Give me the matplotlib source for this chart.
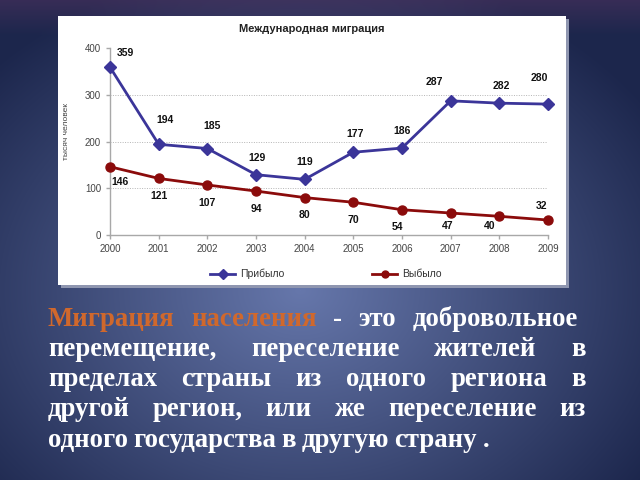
import matplotlib.pyplot as plt
import numpy as np
from matplotlib.patches import Rectangle

# data
years = [2000, 2001, 2002, 2003, 2004, 2005, 2006, 2007, 2008, 2009]
arrived = [359, 194, 185, 129, 119, 177, 186, 287, 282, 280]
left = [146, 121, 107, 94, 80, 70, 54, 47, 40, 32]
yticks = [0, 100, 200, 300, 400]

title = 'Международная миграция'
ylabel = 'тысяч человек'
name_arrived = 'Прибыло'
name_left = 'Выбыло'

lines = [
    ['Миграция', 'населения', '-', 'это', 'добровольное'],
    ['перемещение,', 'переселение', 'жителей', 'в'],
    ['пределах', 'страны', 'из', 'одного', 'региона', 'в'],
    ['другой', 'регион,', 'или', 'же', 'переселение', 'из'],
    ['одного', 'государства', 'в', 'другую', 'страну', '.'],
]

# label offsets in pixels (dx, dy up)
off_arr = [(15, 14), (6, 24), (5, 23), (1, 17), (0, 17), (2, 18), (0, 17), (-16, 19), (2, 17), (-9, 26)]
off_left = [(10, -15), (0, -18), (0, -18), (0, -18), (0, -17), (0, -18), (-5, -17), (-3, -13), (-10, -10), (-6, 14)]

W, H = 640, 480
fig = plt.figure(figsize=(6.4, 4.8), dpi=100)

# background gradient
bg = fig.add_axes([0, 0, 1, 1])
yy, xx = np.mgrid[0:H, 0:W]
d = np.sqrt(((xx - 300) / 420) ** 2 + ((yy - 290) / 330) ** 2)
t = np.clip(d, 0, 1)
c_in = np.array([0x66, 0x77, 0xab]) / 255
c_out = np.array([0x1c, 0x26, 0x4c]) / 255
img = c_in[None, None, :] * (1 - t[..., None]) + c_out[None, None, :] * t[..., None]
# purple tint at top
top = np.clip(1 - yy / 35, 0, 1)[..., None] * 0.35
img = img * (1 - top) + np.array([0x6a, 0x3a, 0x6a])[None, None, :] / 255 * top
bg.imshow(img, extent=[0, W, H, 0], aspect='auto')
bg.set_xlim(0, W)
bg.set_ylim(H, 0)
bg.axis('off')

# white panel with shadow
fig.patches.append(Rectangle((61 / W, (H - 288) / H), 508 / W, 269 / H, transform=fig.transFigure,
                             facecolor='#8f96b0', edgecolor='none', zorder=1))
fig.patches.append(Rectangle((58 / W, (H - 285) / H), 508 / W, 269 / H, transform=fig.transFigure,
                             facecolor='white', edgecolor='none', zorder=1))

ax = fig.add_axes([110 / W, (H - 235) / H, 438 / W, 187 / H])
ax.set_zorder(3)
ax.patch.set_alpha(0)
ax.set_xlim(2000, 2009)
ax.set_ylim(0, 400)
ax.set_yticks(yticks)
ax.set_xticks(years)
for v in yticks[1:-1]:
    ax.axhline(v, color='#b5b5b5', lw=0.7, ls=(0, (1, 1.5)), zorder=1)
for s in ['top', 'right']:
    ax.spines[s].set_visible(False)
for s in ['left', 'bottom']:
    ax.spines[s].set_color('#a8a8a8')
    ax.spines[s].set_linewidth(1)
ax.tick_params(colors='#a8a8a8', labelcolor='#444444', labelsize=7, length=3, width=1)
for lab in ax.get_xticklabels() + ax.get_yticklabels():
    lab.set_family('Liberation Sans')

blue = '#3b3599'
red = '#8b0b0b'
ax.plot(years, arrived, color=blue, lw=2, marker='D', ms=6, clip_on=False, zorder=4, label=name_arrived)
ax.plot(years, left, color=red, lw=2, marker='o', ms=6.5, clip_on=False, zorder=4, label=name_left)

for x, v, o in zip(years, arrived, off_arr):
    ax.annotate(str(v), (x, v), xytext=(o[0] * 0.72, o[1] * 0.72), textcoords='offset points',
                ha='center', va='center', fontsize=7.5, fontweight='bold', family='Liberation Sans', color='#111111')
for x, v, o in zip(years, left, off_left):
    ax.annotate(str(v), (x, v), xytext=(o[0] * 0.72, o[1] * 0.72), textcoords='offset points',
                ha='center', va='center', fontsize=7.5, fontweight='bold', family='Liberation Sans', color='#111111')

fig.text(312 / W, 1 - 29 / H, title, ha='center', va='center', fontsize=8, fontweight='bold',
         family='Liberation Sans', color='#222222', zorder=5)
fig.text(67 / W, 1 - 132 / H, ylabel, ha='center', va='center', rotation=90, fontsize=6,
         family='Liberation Sans', color='#444444', zorder=5)

# legend drawn by hand
for (x0, name, col, mk) in [(210, name_arrived, blue, 'D'), (372, name_left, red, 'o')]:
    ly = 1 - 274 / H
    fig.add_artist(plt.Line2D([x0 / W, (x0 + 25) / W], [ly, ly], color=col, lw=2, transform=fig.transFigure, zorder=5))
    fig.add_artist(plt.Line2D([(x0 + 12.5) / W], [ly], color=col, marker=mk, ms=5, transform=fig.transFigure, zorder=5))
    fig.text((x0 + 30) / W, ly, name, ha='left', va='center', fontsize=7.5, family='Liberation Sans',
             color='#333333', zorder=5)

# justified paragraph
orange = '#d0682c'
fs = 19.3
ys = [326, 356, 386, 416, 447]
rights = [578, 586, 586, 586, None]
x_left = 48
fig.canvas.draw()
r = fig.canvas.get_renderer()
sp = fig.text(0, 0, 'a a', fontsize=fs, fontweight='bold', family='Liberation Serif')
sp2 = fig.text(0, 0, 'aa', fontsize=fs, fontweight='bold', family='Liberation Serif')
space_w = sp.get_window_extent(renderer=r).width - sp2.get_window_extent(renderer=r).width
sp.remove()
sp2.remove()
for li, words in enumerate(lines):
    arts = []
    for wi, w in enumerate(words):
        col = orange if (li == 0 and wi < 2) else 'white'
        a = fig.text(0, 1 - ys[li] / H, w, ha='left', va='baseline', fontsize=fs, fontweight='bold',
                     family='Liberation Serif', color=col, zorder=5)
        arts.append(a)
    widths = [a.get_window_extent(renderer=r).width for a in arts]
    if rights[li] is None:
        gap = space_w * 0.8
    else:
        gap = (rights[li] - x_left - sum(widths)) / (len(words) - 1)
    x = x_left
    for a, wdt in zip(arts, widths):
        a.set_x(x / W)
        x += wdt + gap

fig.savefig('out.png', dpi=100)
